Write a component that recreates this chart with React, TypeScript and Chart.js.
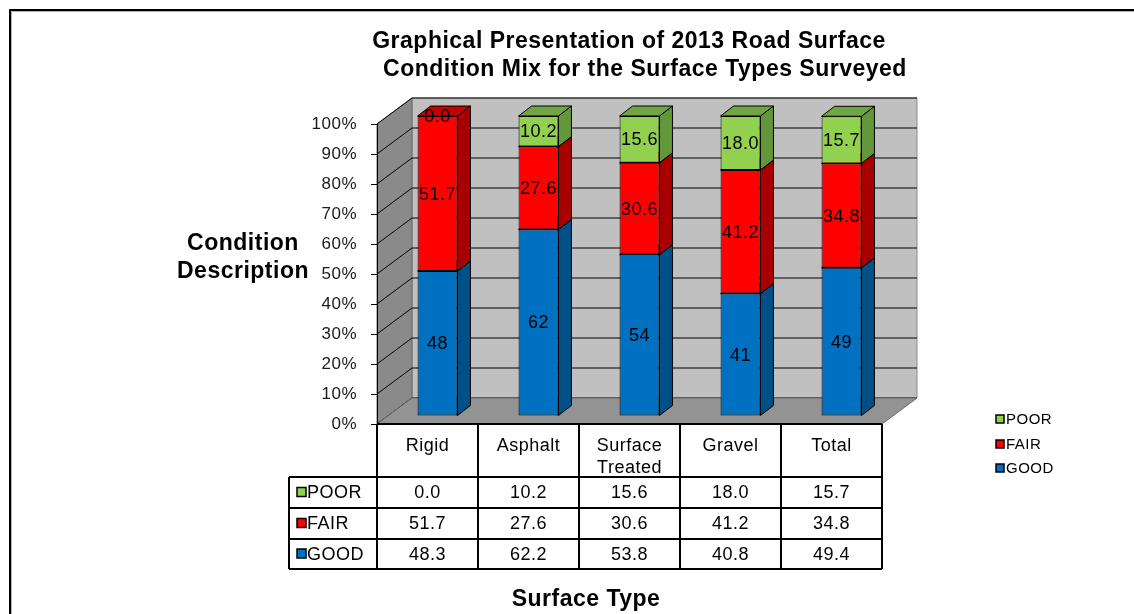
import React, { useEffect, useRef } from 'react';
import { Chart, registerables } from 'chart.js';

Chart.register(...registerables);

// ---------- data ----------
const categories = ['Rigid', 'Asphalt', 'Surface Treated', 'Gravel', 'Total'];
const categoryLines = [['Rigid'], ['Asphalt'], ['Surface', 'Treated'], ['Gravel'], ['Total']];
const goodValues = [48.3, 62.2, 53.8, 40.8, 49.4];
const fairValues = [51.7, 27.6, 30.6, 41.2, 34.8];
const poorValues = [0.0, 10.2, 15.6, 18.0, 15.7];
const seriesNames = ['GOOD', 'FAIR', 'POOR'];
const titleLines = ['Graphical Presentation of 2013 Road Surface', 'Condition Mix for the Surface Types Surveyed'];
const yTitleLines = ['Condition', 'Description'];
const xTitle = 'Surface Type';

// ---------- styles ----------
const FONT = '"Liberation Sans", Arial, sans-serif';
const COLORS: Record<string, { front: string; side: string; top: string }> = {
  GOOD: { front: '#0070C0', side: '#004F87', top: '#0060A6' },
  FAIR: { front: '#FF0000', side: '#A80000', top: '#C40000' },
  POOR: { front: '#92D050', side: '#64963A', top: '#6FA642' },
};
const WALL_DX = 35;
const WALL_DY = -26;
const BAR_OX = 10;
const BAR_OY = -8;
const BAR_DX = 13;
const BAR_DY = -10;

function poly(ctx: CanvasRenderingContext2D, pts: number[][], fill: string, stroke?: string, lw = 1) {
  ctx.beginPath();
  ctx.moveTo(pts[0][0], pts[0][1]);
  for (let i = 1; i < pts.length; i++) ctx.lineTo(pts[i][0], pts[i][1]);
  ctx.closePath();
  ctx.fillStyle = fill;
  ctx.fill();
  if (stroke) {
    ctx.strokeStyle = stroke;
    ctx.lineWidth = lw;
    ctx.stroke();
  }
}

function labelFor(series: string, v: number) {
  return series === 'GOOD' ? Math.round(v).toFixed(0) : v.toFixed(1);
}

const scenePlugin = {
  id: 'scene3d',
  beforeDraw(chart: any) {
    const ctx: CanvasRenderingContext2D = chart.ctx;
    const a = chart.chartArea;
    const yS = chart.scales.y;
    (ctx as any).letterSpacing = '0.5px';
    ctx.save();
    ctx.fillStyle = '#fff';
    ctx.fillRect(0, 0, chart.width, chart.height);
    // frame
    ctx.fillStyle = '#000';
    ctx.fillRect(9, 9, chart.width - 9, 2);
    ctx.fillRect(9, 9, 2, chart.height - 9);
    ctx.fillStyle = '#b0b0b0';
    ctx.fillRect(11, 11, chart.width - 11, 1);
    ctx.fillRect(11, 11, 1, chart.height - 11);

    const L = a.left, R = a.right, T = a.top, B = a.bottom;
    // back wall
    poly(ctx, [[L + WALL_DX, T + WALL_DY], [R + WALL_DX, T + WALL_DY], [R + WALL_DX, B + WALL_DY], [L + WALL_DX, B + WALL_DY]], '#c0c0c0', '#8c8c8c');
    // side wall
    poly(ctx, [[L, T], [L + WALL_DX, T + WALL_DY], [L + WALL_DX, B + WALL_DY], [L, B]], '#8a8a8a', '#6a6a6a');
    // gridlines
    ctx.strokeStyle = '#000';
    ctx.lineWidth = 1;
    for (const t of yS.ticks) {
      const y = yS.getPixelForValue(t.value);
      ctx.beginPath();
      ctx.moveTo(L, y);
      ctx.lineTo(L + WALL_DX, y + WALL_DY);
      ctx.lineTo(R + WALL_DX, y + WALL_DY);
      ctx.stroke();
    }
    // floor
    poly(ctx, [[L, B], [L + WALL_DX, B + WALL_DY], [R + WALL_DX, B + WALL_DY], [R, B]], '#939393', '#6a6a6a');
    ctx.restore();
  },
  beforeDatasetsDraw(chart: any) {
    const ctx: CanvasRenderingContext2D = chart.ctx;
    ctx.save();
    ctx.lineJoin = 'round';
    const n = chart.data.labels.length;
    for (let i = 0; i < n; i++) {
      for (let d = 0; d < chart.data.datasets.length; d++) {
        const ds = chart.data.datasets[d];
        const v = ds.data[i];
        if (!v) continue;
        const el = chart.getDatasetMeta(d).data[i];
        const p = el.getProps(['x', 'y', 'base', 'width'], true);
        const x2 = p.x + p.width / 2 + BAR_OX;
        const x1 = p.x - p.width / 2 + BAR_OX;
        const yt = Math.min(p.y, p.base) + BAR_OY;
        const yb = Math.max(p.y, p.base) + BAR_OY;
        const c = COLORS[ds.label];
        poly(ctx, [[x2, yb], [x2, yt], [x2 + BAR_DX, yt + BAR_DY], [x2 + BAR_DX, yb + BAR_DY]], c.side, '#000');
        poly(ctx, [[x1, yt], [x2, yt], [x2 + BAR_DX, yt + BAR_DY], [x1 + BAR_DX, yt + BAR_DY]], c.top, '#000');
      }
    }
    ctx.restore();
    ctx.save();
    ctx.translate(BAR_OX, BAR_OY);
  },
  afterDatasetsDraw(chart: any) {
    const ctx: CanvasRenderingContext2D = chart.ctx;
    ctx.restore();
    const a = chart.chartArea;
    const xS = chart.scales.x;
    const n = chart.data.labels.length;
    ctx.save();
    (ctx as any).letterSpacing = '0.5px';

    // data labels
    ctx.font = `18px ${FONT}`;
    ctx.fillStyle = '#000';
    ctx.textAlign = 'center';
    ctx.textBaseline = 'middle';
    for (let d = 0; d < chart.data.datasets.length; d++) {
      const ds = chart.data.datasets[d];
      const meta = chart.getDatasetMeta(d);
      for (let i = 0; i < n; i++) {
        const p = meta.data[i].getProps(['x', 'y', 'base'], true);
        const cy = (p.y + p.base) / 2 + BAR_OY;
        ctx.fillText(labelFor(ds.label, ds.data[i]), p.x + BAR_OX, cy + 1);
      }
    }

    // titles
    ctx.font = `bold 23px ${FONT}`;
    ctx.fillText(titleLines[0], 629, 42);
    ctx.fillText(titleLines[1], 645, 70);
    ctx.fillText(yTitleLines[0], 243, 244);
    ctx.fillText(yTitleLines[1], 243, 272);
    ctx.fillText(xTitle, 586, 600);

    // data table
    const colW = (a.right - a.left) / n;
    const rowTops = [477, 508, 539, 569];
    const tableLeft = 289;
    ctx.strokeStyle = '#000';
    ctx.lineWidth = 2;
    ctx.beginPath();
    ctx.moveTo(a.left, a.bottom);
    ctx.lineTo(a.right, a.bottom);
    for (const y of rowTops) {
      ctx.moveTo(tableLeft, y);
      ctx.lineTo(a.right, y);
    }
    ctx.moveTo(tableLeft, rowTops[0]);
    ctx.lineTo(tableLeft, rowTops[3]);
    for (let k = 0; k <= n; k++) {
      const x = k === n ? a.right : xS.getPixelForValue(k) - colW / 2;
      ctx.moveTo(x, a.bottom);
      ctx.lineTo(x, rowTops[3]);
    }
    ctx.stroke();

    ctx.font = `18px ${FONT}`;
    ctx.fillStyle = '#000';
    for (let i = 0; i < n; i++) {
      const cx = xS.getPixelForValue(i);
      categoryLines[i].forEach((line, li) => ctx.fillText(line, cx, 446 + li * 22));
    }
    const rowSeries = ['POOR', 'FAIR', 'GOOD'];
    rowSeries.forEach((s, r) => {
      const d = seriesNames.indexOf(s);
      const ds = chart.data.datasets[d];
      const cy = (rowTops[r] + rowTops[r + 1]) / 2 + 1;
      for (let i = 0; i < n; i++) {
        ctx.textAlign = 'center';
        ctx.fillStyle = '#000';
        ctx.fillText(ds.data[i].toFixed(1), xS.getPixelForValue(i), cy);
      }
      // key
      ctx.fillStyle = COLORS[s].front;
      ctx.fillRect(297, cy - 6, 9, 9);
      ctx.strokeStyle = '#000';
      ctx.lineWidth = 1.5;
      ctx.strokeRect(297, cy - 6, 9, 9);
      ctx.fillStyle = '#000';
      ctx.textAlign = 'left';
      ctx.fillText(s, 307, cy);
    });

    // legend
    ctx.font = `15px ${FONT}`;
    const legendY = [420, 445, 469];
    rowSeries.forEach((s, r) => {
      const y = legendY[r];
      ctx.fillStyle = COLORS[s].front;
      ctx.fillRect(996, y - 5, 8, 8);
      ctx.strokeStyle = '#000';
      ctx.lineWidth = 1.5;
      ctx.strokeRect(996, y - 5, 8, 8);
      ctx.fillStyle = '#000';
      ctx.textAlign = 'left';
      ctx.fillText(s, 1006, y);
    });
    ctx.restore();
  },
};

export default function App() {
  const ref = useRef<HTMLCanvasElement>(null);
  useEffect(() => {
    const canvas = ref.current as HTMLCanvasElement;
    const datasets = seriesNames.map((name) => ({
      label: name,
      data: name === 'GOOD' ? goodValues : name === 'FAIR' ? fairValues : poorValues,
      backgroundColor: COLORS[name].front,
      borderColor: '#000',
      borderWidth: 1,
      borderSkipped: false as const,
    }));
    const chart = new Chart(canvas, {
      type: 'bar',
      data: { labels: categories, datasets },
      options: {
        responsive: false,
        animation: false,
        devicePixelRatio: 1,
        layout: { padding: { left: 0, right: 1134 - 882, top: 124, bottom: 614 - 424 } },
        datasets: { bar: { barPercentage: 0.395, categoryPercentage: 1 } },
        plugins: {
          legend: { display: false },
          title: { display: false },
          tooltip: { enabled: false },
        },
        scales: {
          x: { type: 'category', stacked: true, display: false, offset: true },
          y: {
            stacked: true,
            min: 0,
            max: 100,
            ticks: {
              stepSize: 10,
              callback: (v: any) => v + '%',
              font: { family: FONT, size: 17 },
              color: '#1a1a1a',
              padding: 14,
            },
            grid: { display: true, drawOnChartArea: false, drawTicks: true, tickLength: 6, color: '#000' },
            border: { display: true, color: '#000', width: 1 },
            afterFit: (s: any) => {
              s.width = 377;
            },
          },
        },
      } as any,
      plugins: [scenePlugin],
    });
    return () => chart.destroy();
  }, []);
  return (
    <div style={{ position: 'absolute', left: 0, top: 0, width: 1134, height: 614, background: '#fff' }}>
      <canvas ref={ref} width={1134} height={614} style={{ display: 'block' }} />
    </div>
  );
}
